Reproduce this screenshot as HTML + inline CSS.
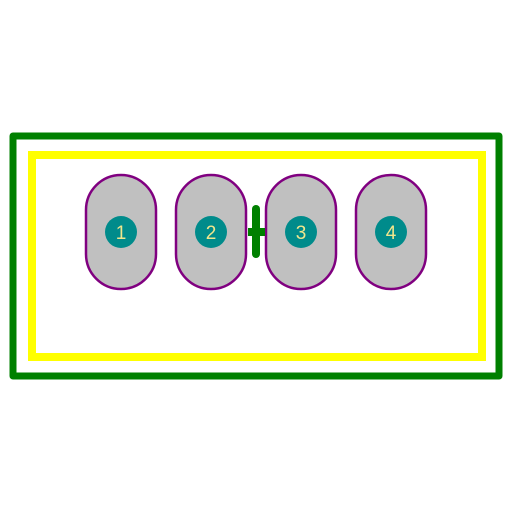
<!DOCTYPE html>
<html><head><meta charset="utf-8"><style>html,body{margin:0;padding:0;background:#fff}</style></head>
<body>
<svg width="512" height="512" viewBox="0 0 512 512">
<rect x="13" y="136" width="486" height="240" fill="none" stroke="#008000" stroke-width="7" stroke-linejoin="round"/>
<rect x="32" y="155" width="450" height="202" fill="none" stroke="#ffff00" stroke-width="8"/>
<g>
<rect x="86" y="175" width="70" height="114" rx="35" fill="#c0c0c0" stroke="#800080" stroke-width="2.5"/>
<circle cx="121" cy="232" r="16" fill="#008b8b"/>
<text x="121" y="239" text-anchor="middle" font-family="Liberation Sans, sans-serif" font-size="19" fill="#f0e68c">1</text></g>
<g>
<rect x="176" y="175" width="70" height="114" rx="35" fill="#c0c0c0" stroke="#800080" stroke-width="2.5"/>
<circle cx="211" cy="232" r="16" fill="#008b8b"/>
<text x="211" y="239" text-anchor="middle" font-family="Liberation Sans, sans-serif" font-size="19" fill="#f0e68c">2</text></g>
<g>
<rect x="266" y="175" width="70" height="114" rx="35" fill="#c0c0c0" stroke="#800080" stroke-width="2.5"/>
<circle cx="301" cy="232" r="16" fill="#008b8b"/>
<text x="301" y="239" text-anchor="middle" font-family="Liberation Sans, sans-serif" font-size="19" fill="#f0e68c">3</text></g>
<g>
<rect x="356" y="175" width="70" height="114" rx="35" fill="#c0c0c0" stroke="#800080" stroke-width="2.5"/>
<circle cx="391" cy="232" r="16" fill="#008b8b"/>
<text x="391" y="239" text-anchor="middle" font-family="Liberation Sans, sans-serif" font-size="19" fill="#f0e68c">4</text></g>
<g stroke="#008000" stroke-width="8" stroke-linecap="round">
<line x1="256" y1="209" x2="256" y2="254"/>
<line x1="248" y1="232" x2="265" y2="232" stroke-linecap="butt"/></g>
</svg>
</body></html>
